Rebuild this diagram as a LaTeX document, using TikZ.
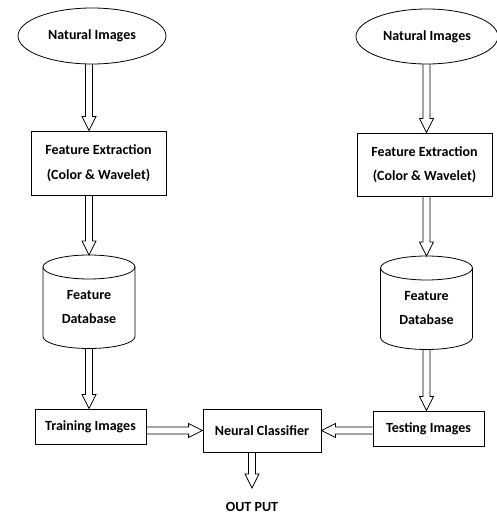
\documentclass[tikz,border=0pt]{standalone}
\usepackage{fontspec}
\setmainfont{Carlito}
\usetikzlibrary{calc,shapes.geometric}
\begin{document}
\begin{tikzpicture}[x=1pt,y=1pt,line width=0.8pt,
  every node/.style={font=\bfseries\fontsize{14}{24.5}\selectfont, align=center, inner sep=0pt},
  oval/.style={draw, ellipse, minimum width=148pt, minimum height=56pt},
  flowbox/.style={draw, rectangle, minimum width=135pt, minimum height=64pt},
  smallbox/.style={draw, rectangle, minimum width=111pt, minimum height=35pt},
  blk/.style={line join=miter, to path={
    let \p1=(\tikztostart), \p2=(\tikztotarget),
        \n1={veclen(\x2-\x1,\y2-\y1)}, \n2={atan2(\y2-\y1,\x2-\x1)} in
    {[shift={(\p1)}, rotate=\n2]
     (0pt,-3.5pt) -- (\n1*1pt-14pt,-3.5pt) -- (\n1*1pt-14pt,-7pt) -- (\n1*1pt,0pt)
     -- (\n1*1pt-14pt,7pt) -- (\n1*1pt-14pt,3.5pt) -- (0pt,3.5pt)}
  }}]
\useasboundingbox (0,0) rectangle (497,515);

\node[oval] (e1) at (92,479) {Natural Images};
\node[oval, minimum width=142pt, minimum height=55pt] (e2) at (427,478.5) {Natural Images};
\node[flowbox] (fe1) at (98.5,352) {Feature Extraction\\(Color \& Wavelet)};
\node[flowbox, minimum height=63pt] (fe2) at (424.5,350.5) {Feature Extraction\\(Color \& Wavelet)};
\node (db1) at (89,208) {Feature\\Database};
\node (db2) at (426.5,207) {Feature\\Database};
\node[smallbox] (tr) at (90.5,88.5) {Training Images};
\node[draw, minimum width=118pt, minimum height=43pt] (nc) at (262,84.5) {Neural Classifier};
\node[smallbox] (te) at (428.5,86.5) {Testing Images};
\node[anchor=base] (out) at (252,4) {OUT PUT};
\coordinate (outend) at (252,27);

\foreach \c in {db1,db2} {
  \draw ($(\c)+(-46,40)$) -- ($(\c)+(-46,-29.5)$)
     arc[start angle=180, end angle=360, x radius=46, y radius=12] -- ($(\c)+(46,40)$);
  \draw ($(\c)+(0,40)$) ellipse [x radius=46, y radius=12];
  \coordinate (\c-top) at ($(\c)+(0,52)$);
  \coordinate (\c-bot) at ($(\c)+(0,-41.5)$);
}

\draw (e1.south -| db1) to[blk] (fe1.north -| db1);
\draw (fe1.south -| db1) to[blk] (db1-top);
\draw (db1-bot) to[blk] (tr.north -| db1);
\draw (e2.south -| db2) to[blk] (fe2.north -| db2);
\draw (fe2.south -| db2) to[blk] (db2-top);
\draw (db2-bot) to[blk] (te.north -| db2);
\draw (tr.east |- nc) to[blk] (nc.west);
\draw (te.west |- nc) to[blk] (nc.east);
\draw (nc.south -| out) to[blk] (outend);
\end{tikzpicture}
\end{document}
